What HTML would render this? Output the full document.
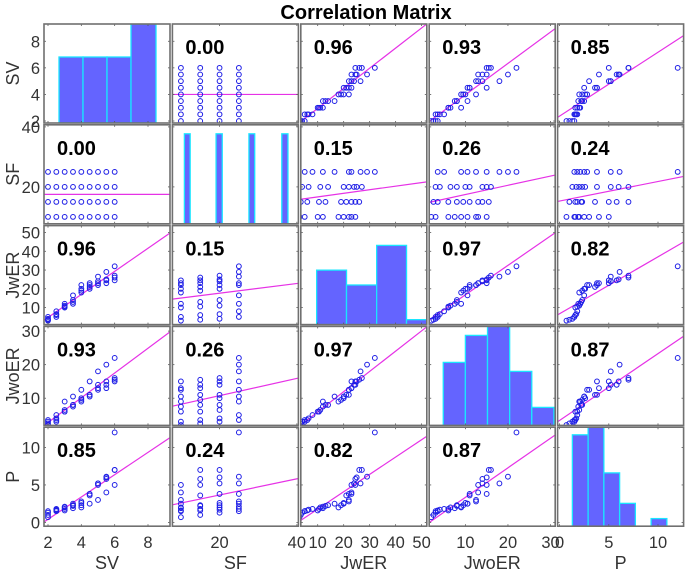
<!DOCTYPE html>
<html><head><meta charset="utf-8"><style>
html,body{margin:0;padding:0;background:#fff;}
svg{display:block;font-family:"Liberation Sans",Arial,sans-serif;}
</style></head><body>
<svg id="chart" width="688" height="573" viewBox="0 0 688 573" xmlns="http://www.w3.org/2000/svg">
<text x="366" y="19" text-anchor="middle" font-size="20" font-weight="bold" fill="#000">Correlation Matrix</text>
<g id="plots"></g>
</svg>
<script>
const varNames = ["SV","SF","JwER","JwoER","P"];
const SV    = [2,2,2,2, 2.5,2.5,2.5,2.5, 3,3,3,3, 3.5,3.5,3.5,3.5, 4,4,4,4, 4.5,4.5,4.5,4.5, 5,5,5,5, 5.5,5.5,5.5,5.5, 6,6,6,6];
const SF    = [10,15,20,25, 10,15,20,25, 10,15,20,25, 10,15,20,25, 10,15,20,25, 10,15,20,25, 10,15,20,25, 10,15,20,25, 10,15,20,25];
const JwER  = [3,3.5,4,5, 5,6,6.5,8, 10,10.5,11,12, 12,13,14,16.5, 18,19,20,22, 20,21,22,23, 22,23,24,26.5, 23,24.5,25,29, 24.5,26,27,32];
const JwoER = [2,2.5,3,3.5, 3,3.5,4,5, 6,6,6.5,9, 7.5,8,8,10.5, 9,9.5,10,12.5, 10.5,11,11,15, 12.5,13,14,18, 13,14,15,20, 15,15.5,16,22];
const P     = [0.7,1.0,1.3,1.5, 1.5,1.6,1.7,1.8, 1.6,1.8,2.0,2.1, 1.9,2.2,2.3,2.5, 2.0,2.3,2.6,2.8, 2.5,3.6,3.8,3.8, 3.0,5.0,5.2,5.2, 4.0,5.8,6.0,6.1, 5.0,7.0,7.0,12];
const corrLabels = [
 ["", "0.00","0.96","0.93","0.85"],
 ["0.00","", "0.15","0.26","0.24"],
 ["0.96","0.15","", "0.97","0.82"],
 ["0.93","0.26","0.97","", "0.87"],
 ["0.85","0.24","0.82","0.87",""]];
const xDomains = [[1.76,9.32],[7.8,40.4],[3.5,52],[1.5,31.1],[-0.2,12.6]];
const yDomains = [[1.85,9.3],[7.7,40.7],[0.9,53.7],[1.9,31.4],[-0.5,12.7]];
const xTicks = [[2,4,6,8],[20,40],[10,20,30,40,50],[10,20,30],[0,5,10]];
const yTicks = [[2,4,6,8],[20,40],[10,20,30,40,50],[10,20,30],[0,5,10]];
const histSV_edges = [2.66,4.1,5.54,6.98,8.48];
const histSV_counts = [8,8,8,12];
const histSF_lo = [10.9,19.1,27.6,36.1];
const histSF_hi = [12.4,20.7,29.1,37.7];
const histSF_counts = [9,9,9,9];
const histJwER_edges = [9.6,21.1,32.7,44.2,53];
const histJwER_counts = [11,8,16,1];
const histJwoER_edges = [4.8,10,15.2,20.4,25.6,30.8];
const histJwoER_counts = [7,10,11,6,2];
const histP_edges = [1.3,2.9,4.5,6.1,7.7,9.3,10.9];
const histP_counts = [12,13,7,3,0,1];
const histCountMax = [12,9.9,20,11,13];

const data = [SV,SF,JwER,JwoER,P];
const NS="http://www.w3.org/2000/svg";
const g=document.getElementById('plots');
const colX0=[44,172.4,300.8,429.2,557.6], W=126;
const rowY0=[24,124.8,225.6,326.4,427.2], H=99;
function mk(t,a,parent){const e=document.createElementNS(NS,t);for(const k in a)e.setAttribute(k,a[k]);(parent||g).appendChild(e);return e;}
function sx(c,v){const d=xDomains[c];return colX0[c]+(v-d[0])/(d[1]-d[0])*W;}
function sy(r,v){const d=yDomains[r];return rowY0[r]+H-(v-d[0])/(d[1]-d[0])*H;}
function hy(r,n){return rowY0[r]+H-n/histCountMax[r]*H;}

function histBars(i){
  let bins=[];
  if(i===0) histSV_counts.forEach((n,k)=>bins.push([histSV_edges[k],histSV_edges[k+1],n]));
  if(i===1) histSF_counts.forEach((n,k)=>bins.push([histSF_lo[k],histSF_hi[k],n]));
  if(i===2) histJwER_counts.forEach((n,k)=>bins.push([histJwER_edges[k],histJwER_edges[k+1],n]));
  if(i===3) histJwoER_counts.forEach((n,k)=>bins.push([histJwoER_edges[k],histJwoER_edges[k+1],n]));
  if(i===4) histP_counts.forEach((n,k)=>bins.push([histP_edges[k],histP_edges[k+1],n]));
  return bins;
}

for(let r=0;r<5;r++){
  for(let c=0;c<5;c++){
    const pg=mk('g',{});
    
    
    const clipId='clip'+r+'_'+c;
    const cp=mk('clipPath',{id:clipId},pg);
    mk('rect',{x:colX0[c],y:rowY0[r],width:W,height:H},cp);
    const inner=mk('g',{'clip-path':'url(#'+clipId+')'},pg);
    if(r===c){
      histBars(r).forEach(b=>{
        if(b[2]<=0)return;
        const x1=sx(c,b[0]),x2=sx(c,b[1]),y=hy(r,b[2]);
        const rc=mk('rect',{x:x1,y:y,width:x2-x1,height:rowY0[r]+H-y,fill:'#6464ff',stroke:'#19e6ff','stroke-width':1.3},inner);
        
        
      });
    } else {
      const xs=data[c], ys=data[r];
      const n=xs.length;let mx=0,my=0;for(let k=0;k<n;k++){mx+=xs[k];my+=ys[k];}mx/=n;my/=n;
      let sxy=0,sxx=0;for(let k=0;k<n;k++){sxy+=(xs[k]-mx)*(ys[k]-my);sxx+=(xs[k]-mx)**2;}
      const b=sxx?sxy/sxx:0,a=my-b*mx;
      const xd=xDomains[c];
      const ln=mk('line',{x1:sx(c,xd[0]),y1:sy(r,a+b*xd[0]),x2:sx(c,xd[1]),y2:sy(r,a+b*xd[1]),stroke:'#e632e6','stroke-width':1.2},inner);
      
      
      for(let k=0;k<n;k++){
        const pt=mk('circle',{cx:sx(c,xs[k]),cy:sy(r,ys[k]),r:2.4,fill:'none',stroke:'#1e1ee6','stroke-width':1},inner);
        
        
      }
      const t=mk('text',{x:colX0[c]+13,y:rowY0[r]+30,'font-size':20,'font-weight':'bold',fill:'#000'},pg);
      t.textContent=corrLabels[r][c];
      
      
    }
    xTicks[c].forEach(v=>{const x=sx(c,v);if(x<colX0[c]||x>colX0[c]+W)return;
      mk('line',{x1:x,y1:rowY0[r]+H,x2:x,y2:rowY0[r]+H-2,stroke:'#555','stroke-width':0.8},pg);
      mk('line',{x1:x,y1:rowY0[r],x2:x,y2:rowY0[r]+2,stroke:'#555','stroke-width':0.8},pg);});
    yTicks[r].forEach(v=>{const y=sy(r,v);if(y<rowY0[r]||y>rowY0[r]+H)return;
      mk('line',{x1:colX0[c],y1:y,x2:colX0[c]+2,y2:y,stroke:'#555','stroke-width':0.8},pg);
      mk('line',{x1:colX0[c]+W,y1:y,x2:colX0[c]+W-2,y2:y,stroke:'#555','stroke-width':0.8},pg);});
    const br=mk('rect',{x:colX0[c],y:rowY0[r],width:W,height:H,fill:'none',stroke:'#707070','stroke-width':1.6},pg);
    
    
  }
}
for(let c=0;c<5;c++){
  xTicks[c].forEach(v=>{const x=sx(c,v);
    const t=mk('text',{x:x,y:548,'text-anchor':'middle','font-size':16.5,fill:'#333'});
    t.textContent=v;
    
    });
  const t=mk('text',{x:colX0[c]+W/2,y:569,'text-anchor':'middle','font-size':18,fill:'#333'});
  t.textContent=varNames[c];
  
  
}
for(let r=0;r<5;r++){
  yTicks[r].forEach(v=>{const y=sy(r,v);
    const t=mk('text',{x:40,y:y+6,'text-anchor':'end','font-size':16.5,fill:'#333'});
    t.textContent=v;
    
    });
  const cy=rowY0[r]+H/2;
  const t=mk('text',{x:0,y:0,'text-anchor':'middle','font-size':18,fill:'#333',transform:'translate(19,'+cy+') rotate(-90)'});
  t.textContent=varNames[r];
  
  
}
</script>
</body></html>
